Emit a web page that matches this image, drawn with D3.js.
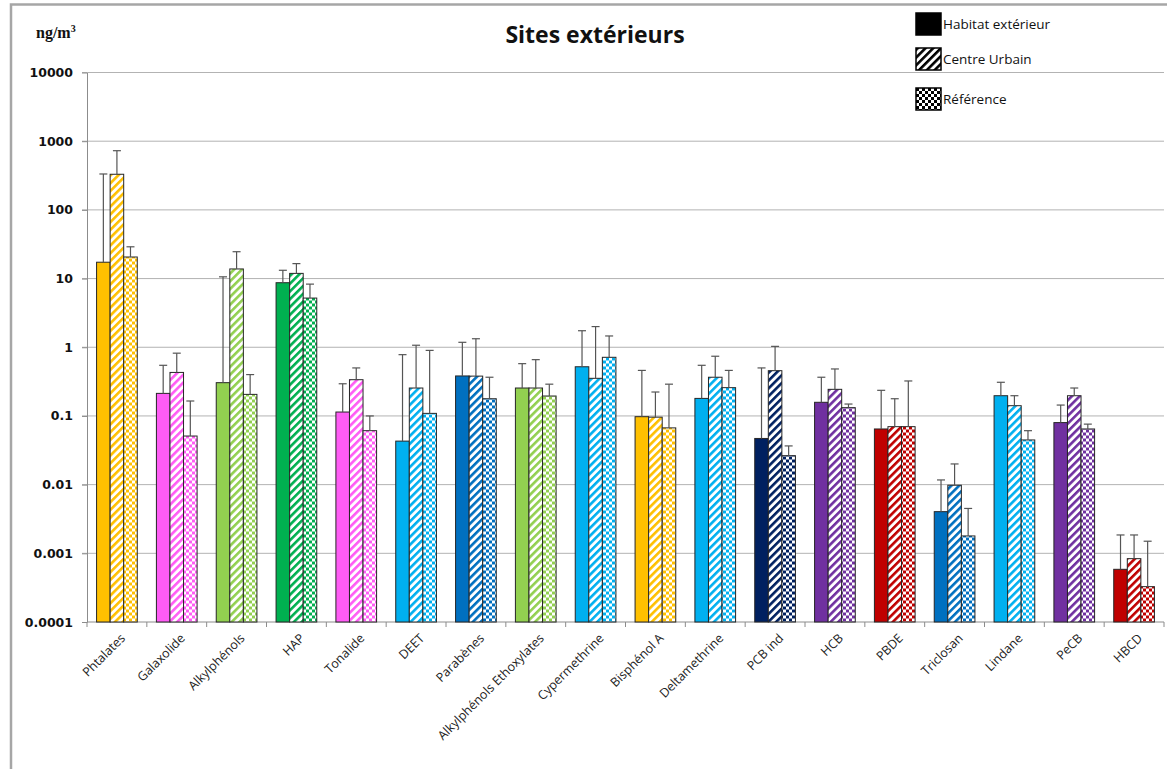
<!DOCTYPE html>
<html>
<head>
<meta charset="utf-8">
<script src="https://cdn.jsdelivr.net/npm/d3@7"></script>
<style>
  body { margin: 0; background: #fff; }
  svg { display: block; }
</style>
</head>
<body>
<script>
// categories along the x axis
var categories = ["Phtalates", "Galaxolide", "Alkylphénols", "HAP", "Tonalide", "DEET",
  "Parabènes", "Alkylphénols Ethoxylates", "Cypermethrine", "Bisphénol A", "Deltamethrine",
  "PCB ind", "HCB", "PBDE", "Triclosan", "Lindane", "PeCB", "HBCD"];

// one colour per category
var catColors = ["#FFC000", "#FF5CF5", "#92D050", "#00B050", "#FF5CF5", "#00B0F0",
  "#0070C0", "#92D050", "#00B0F0", "#FFC000", "#00B0F0",
  "#002060", "#7030A0", "#C00000", "#0070C0", "#00B0F0", "#7030A0", "#C00000"];

var seriesNames = ["Habitat extérieur", "Centre Urbain", "Référence"];

// mean values (ng/m3)
var habitat   = [17.3, 0.213, 0.305, 8.7, 0.114, 0.043, 0.382, 0.255, 0.52, 0.0975, 0.18, 0.047, 0.158, 0.0646, 0.00404, 0.197, 0.080, 0.000585];
var centre    = [330, 0.43, 13.8, 11.9, 0.337, 0.255, 0.38, 0.255, 0.353, 0.096, 0.366, 0.456, 0.244, 0.0698, 0.0098, 0.141, 0.197, 0.000836];
var reference = [20.6, 0.051, 0.206, 5.2, 0.061, 0.109, 0.178, 0.195, 0.714, 0.067, 0.258, 0.0264, 0.132, 0.0698, 0.00179, 0.0447, 0.0646, 0.000327];

// top of the error bars
var errHabitat   = [333, 0.546, 10.6, 13.2, 0.294, 0.78, 1.18, 0.577, 1.74, 0.46, 0.546, 0.50, 0.366, 0.236, 0.0117, 0.309, 0.144, 0.00185];
var errCentre    = [727, 0.82, 24.6, 16.5, 0.50, 1.07, 1.33, 0.66, 2.0, 0.223, 0.74, 1.03, 0.483, 0.178, 0.020, 0.197, 0.255, 0.00185];
var errReference = [29, 0.165, 0.40, 8.3, 0.10, 0.90, 0.366, 0.29, 1.46, 0.29, 0.46, 0.0366, 0.149, 0.323, 0.0045, 0.061, 0.076, 0.0015];

var yTicks = [0.0001, 0.001, 0.01, 0.1, 1, 10, 100, 1000, 10000];
var yTickLabels = ["0.0001", "0.001", "0.01", "0.1", "1", "10", "100", "1000", "10000"];

var values = [habitat, centre, reference];
var errs = [errHabitat, errCentre, errReference];

var W = 1167, H = 769;
var margin = {top: 72.5, right: 3, bottom: 147, left: 87};
var width = W - margin.left - margin.right,
    height = H - margin.top - margin.bottom;

var svg = d3.select("body").append("svg")
    .attr("width", W)
    .attr("height", H)
    .style("font-family", "'Open Sans', sans-serif");

// patterns: diagonal stripes and checkerboard for each colour
var defs = svg.append("defs");
var allColors = Array.from(new Set(catColors.concat(["#000000"])));
function pid(kind, c) { return kind + "-" + c.replace("#", ""); }
allColors.forEach(function(c) {
  var st = defs.append("pattern")
      .attr("id", pid("stripe", c))
      .attr("patternUnits", "userSpaceOnUse")
      .attr("width", 5.5).attr("height", 5.5)
      .attr("patternTransform", "rotate(45)");
  st.append("rect").attr("width", 5.5).attr("height", 5.5).attr("fill", "#fff");
  st.append("rect").attr("width", 2.6).attr("height", 5.5).attr("fill", c);

  var ck = defs.append("pattern")
      .attr("id", pid("check", c))
      .attr("patternUnits", "userSpaceOnUse")
      .attr("width", 6).attr("height", 6);
  ck.append("rect").attr("width", 6).attr("height", 6).attr("fill", "#fff");
  ck.append("rect").attr("width", 3).attr("height", 3).attr("fill", c);
  ck.append("rect").attr("x", 3).attr("y", 3).attr("width", 3).attr("height", 3).attr("fill", c);
});
function fillFor(s, c) {
  if (s === 0) return c;
  if (s === 1) return "url(#" + pid("stripe", c) + ")";
  return "url(#" + pid("check", c) + ")";
}

// chart frame (left and top border)
svg.append("path")
  .attr("d", "M11,769 V4.5 H1167")
  .attr("fill", "none")
  .attr("stroke", "#a6a6a6")
  .attr("stroke-width", 2.5);

var g = svg.append("g")
    .attr("transform", "translate(" + margin.left + "," + margin.top + ")");

// scales
var x = d3.scaleBand().domain(categories).range([0, width])
    .paddingInner(0.32).paddingOuter(0.16);
var xs = d3.scaleBand().domain([0, 1, 2]).range([0, x.bandwidth()]);
var y = d3.scaleLog().domain([0.0001, 10000]).range([height, 0]);

// gridlines
g.append("g")
  .selectAll("line")
  .data(yTicks.slice(1))
  .join("line")
    .attr("x1", -5).attr("x2", width)
    .attr("y1", function(d) { return y(d); })
    .attr("y2", function(d) { return y(d); })
    .attr("stroke", "#b3b3b3")
    .attr("stroke-width", 1);

// y axis
var yAxis = g.append("g")
  .call(d3.axisLeft(y).tickValues(yTicks)
    .tickFormat(function(d, i) { return yTickLabels[i]; })
    .tickSize(5).tickSizeOuter(0));
yAxis.select(".domain").attr("stroke", "#8c8c8c");
yAxis.selectAll(".tick line").attr("stroke", "#8c8c8c");
yAxis.selectAll("text")
  .attr("x", -14)
  .style("font-family", "'DejaVu Sans', sans-serif")
  .style("font-weight", "bold")
  .style("font-size", "12.5px")
  .attr("fill", "#111");

// x axis line with ticks between categories
var xAxis = g.append("g").attr("transform", "translate(0," + height + ")");
xAxis.append("line").attr("x1", 0).attr("x2", width)
  .attr("stroke", "#8c8c8c");
xAxis.selectAll("line.sep")
  .data(d3.range(categories.length + 1))
  .join("line")
    .attr("class", "sep")
    .attr("x1", function(i) { return i * x.step(); })
    .attr("x2", function(i) { return i * x.step(); })
    .attr("y1", 0).attr("y2", 5)
    .attr("stroke", "#8c8c8c");
xAxis.selectAll("text")
  .data(categories)
  .join("text")
    .attr("transform", function(d) {
      return "translate(" + (x(d) + x.bandwidth() / 2 + 9) + ",17) rotate(-45)";
    })
    .attr("text-anchor", "end")
    .attr("font-size", "12.5px")
    .attr("fill", "#222")
    .text(function(d) { return d; });

// bars
var rows = [];
categories.forEach(function(c, i) {
  for (var s = 0; s < 3; s++) {
    rows.push({cat: c, s: s, v: values[s][i], e: errs[s][i], color: catColors[i]});
  }
});

var bars = g.append("g");
bars.selectAll("rect")
  .data(rows)
  .join("rect")
    .attr("x", function(d) { return x(d.cat) + xs(d.s); })
    .attr("y", function(d) { return y(d.v); })
    .attr("width", xs.bandwidth())
    .attr("height", function(d) { return height - y(d.v); })
    .attr("fill", function(d) { return fillFor(d.s, d.color); })
    .attr("stroke", "#262626")
    .attr("stroke-width", 1);

// error bars (upper only)
var eb = g.append("g").attr("stroke", "#555").attr("stroke-width", 1.2);
eb.selectAll("line.v")
  .data(rows)
  .join("line")
    .attr("class", "v")
    .attr("x1", function(d) { return x(d.cat) + xs(d.s) + xs.bandwidth() / 2; })
    .attr("x2", function(d) { return x(d.cat) + xs(d.s) + xs.bandwidth() / 2; })
    .attr("y1", function(d) { return y(d.v); })
    .attr("y2", function(d) { return y(d.e); });
eb.selectAll("line.cap")
  .data(rows)
  .join("line")
    .attr("class", "cap")
    .attr("x1", function(d) { return x(d.cat) + xs(d.s) + xs.bandwidth() / 2 - 4; })
    .attr("x2", function(d) { return x(d.cat) + xs(d.s) + xs.bandwidth() / 2 + 4; })
    .attr("y1", function(d) { return y(d.e); })
    .attr("y2", function(d) { return y(d.e); });

// unit label
svg.append("text")
  .attr("x", 36).attr("y", 38)
  .style("font-family", "'Liberation Serif', serif")
  .style("font-weight", "bold")
  .attr("font-size", "16px")
  .attr("fill", "#111")
  .text("ng/m")
  .append("tspan")
    .attr("dy", -6)
    .attr("font-size", "10px")
    .text("3");

// title
svg.append("text")
  .attr("x", 595).attr("y", 43)
  .attr("text-anchor", "middle")
  .attr("font-size", "23px")
  .attr("font-weight", "bold")
  .attr("fill", "#111")
  .text("Sites extérieurs");

// legend
var legY = [13, 48, 88];
var leg = svg.append("g").selectAll("g")
  .data(seriesNames)
  .join("g")
    .attr("transform", function(d, i) { return "translate(916," + legY[i] + ")"; });
leg.append("rect")
  .attr("width", 25).attr("height", 22)
  .attr("fill", function(d, i) { return fillFor(i, "#000000"); })
  .attr("stroke", "#000").attr("stroke-width", 1.5);
leg.append("text")
  .attr("x", 27).attr("y", 11)
  .attr("dy", "0.35em")
  .attr("font-size", "13.5px")
  .attr("fill", "#111")
  .text(function(d) { return d; });
</script>
</body>
</html>
